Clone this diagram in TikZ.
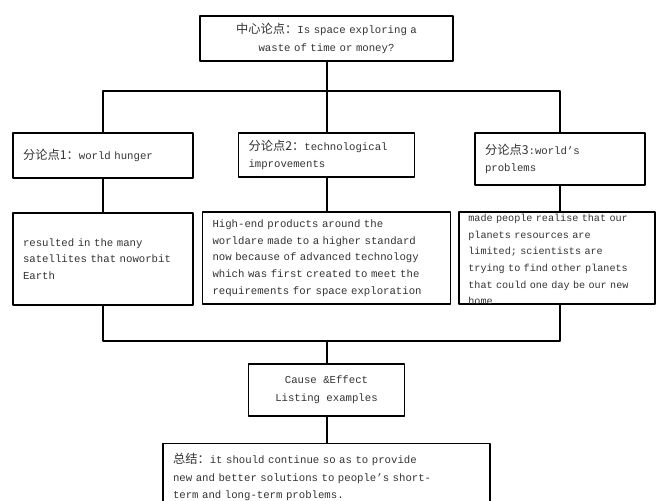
\documentclass[tikz,border=0pt]{standalone}
\usepackage{fontspec}
\setmainfont{Liberation Mono}
\newfontfamily\cjk[Scale=1.15]{Noto Sans CJK SC}
\newcommand\zh[1]{{\cjk #1}}
\begin{document}
\begin{tikzpicture}[x=0.75pt,y=-0.75pt,line cap=round,line join=round,
  box/.style={draw,line width=1pt,inner xsep=7.5pt,inner ysep=1pt,align=left,text=black!80},
  head/.style={box,font=\fontsize{8}{13.2}\selectfont},
  detail/.style={box,font=\fontsize{8}{12.5}\selectfont,minimum height=69pt},
  link/.style={line width=1.5pt}]
  \clip (0,0) rectangle (656,500);
  \fill[white] (0,0) rectangle (656,500);
  % thesis
  \node[head,align=center,text width=174.75pt,minimum height=33.75pt] (thesis) at (326.5,38.5)
    {\zh{中心论点：}Is space exploring a\\waste of time or money?};
  % sub-arguments
  \node[head,text width=120pt,minimum height=33.75pt] (p1) at (103,155.5)
    {\zh{分论点1：}world hunger};
  \node[head,text width=117pt,minimum height=33pt] (p2) at (326.5,155)
    {\zh{分论点2：}technological\\improvements};
  \node[head,text width=112.5pt,minimum height=39pt] (p3) at (560,159)
    {\zh{分论点3}:world's\\problems};
  % evidence
  \node[detail,text width=120pt] (d1) at (103,259)
    {resulted in the many\\satellites that noworbit\\Earth};
  \node[detail,text width=171pt] (d2) at (326.5,258)
    {High-end products around the\\worldare made to a higher standard\\now because of advanced technology\\which was first created to meet the\\requirements for space exploration};
  \node[detail,font=\fontsize{7.6}{12.5}\selectfont,inner xsep=7pt,inner ysep=-0.75pt,text width=133pt] (d3) at (557,258)
    {\rule{0pt}{8pt}made people realise that our\\planets resources are\\limited; scientists are\\trying to find other planets\\that could one day be our new\\home};
  % method and conclusion
  \node[head,align=center,minimum width=117pt,minimum height=39pt] (cause) at (326.5,390)
    {Cause \&Effect\\Listing examples};
  \node[head,text width=230.25pt,minimum height=50pt,anchor=north] (summary) at (326.5,443)
    {\zh{总结：}it should continue so as to provide\\new and better solutions to people's short-\\term and long-term problems.};
  % connectors
  \coordinate (topbar) at (0,91);
  \coordinate (lowbar) at (0,341);
  \draw[link] (thesis.south) -- (thesis.south |- topbar);
  \draw[link] (p1.north) |- (topbar -| p3.north) -- (p3.north);
  \draw[link] (topbar -| p2.north) -- (p2.north);
  \draw[link] (p1.south) -- (p1.south |- d1.north);
  \draw[link] (p2.south) -- (p2.south |- d2.north);
  \draw[link] (p3.south) -- (p3.south |- d3.north);
  \draw[link] (d1.south) |- (lowbar -| p3.south) -- (p3.south |- d3.south);
  \draw[link] (lowbar -| cause.north) -- (cause.north);
  \draw[link] (cause.south) -- (summary.north);
\end{tikzpicture}
\end{document}
